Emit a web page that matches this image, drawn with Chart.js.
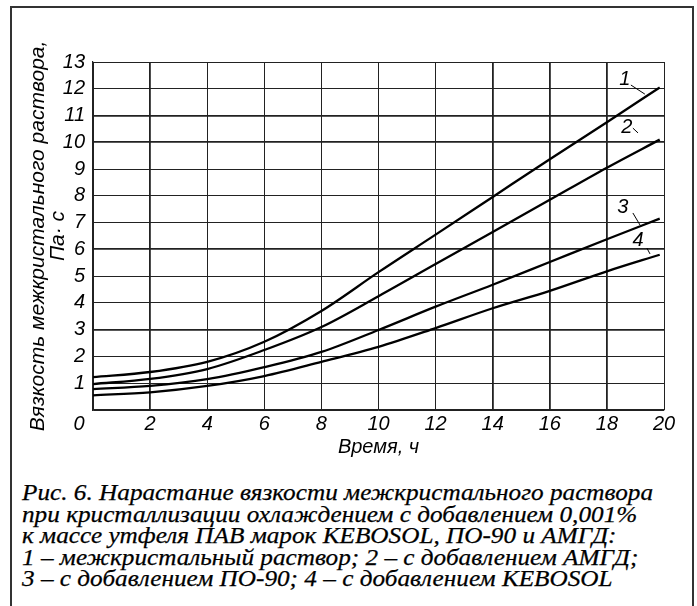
<!DOCTYPE html>
<html>
<head>
<meta charset="utf-8">
<script src="https://cdn.jsdelivr.net/npm/chart.js@4.4.1/dist/chart.umd.min.js"></script>
<style>
  html, body { margin: 0; padding: 0; background: #fff; width: 697px; height: 606px; overflow: hidden; }
  #frame { position: absolute; left: 10px; top: 6px; width: 680px; height: 640px;
           border: 2px solid #333; border-bottom: none; }
  #chart { position: absolute; left: 0; top: 0; }
  #caption { position: absolute; left: 22px; top: 482px; transform-origin: 0 0;
             font-family: 'Liberation Serif', 'DejaVu Serif', serif; font-style: italic;
             font-size: 24px; line-height: 21.6px; color: #000; white-space: nowrap;
             -webkit-text-stroke: 0.25px #000; }
</style>
</head>
<body>
<div id="frame"></div>
<canvas id="chart" width="697" height="470"></canvas>
<div id="caption">
  <div>Рис. 6. Нарастание вязкости межкристального раствора</div>
  <div>при кристаллизации охлаждением с добавлением 0,001%</div>
  <div>к массе утфеля ПАВ марок KEBOSOL, ПО-90 и АМГД:</div>
  <div>1 – межкристальный раствор; 2 – с добавлением АМГД;</div>
  <div>3 – с добавлением ПО-90; 4 – с добавлением KEBOSOL</div>
</div>
<script>
// время, ч
const hours = [0, 2, 4, 6, 8, 10, 12, 14, 16, 18, 19.85];
// вязкость, Па·с
const curve1 = [1.23, 1.42, 1.80, 2.55, 3.70, 5.15, 6.55, 7.96, 9.37, 10.75, 12.05];
const curve2 = [0.97, 1.16, 1.53, 2.24, 3.10, 4.25, 5.45, 6.65, 7.85, 9.05, 10.10];
const curve3 = [0.78, 0.90, 1.15, 1.60, 2.17, 2.99, 3.86, 4.68, 5.53, 6.38, 7.15];
const curve4 = [0.55, 0.66, 0.90, 1.27, 1.80, 2.36, 3.06, 3.80, 4.45, 5.18, 5.80];

// подписи кривых: текст, позиция текста и выноска (в единицах осей)
const curveLabels = [
  { text: '1', x: 18.63, y: 12.33, from: [18.84, 12.14], to: [19.33, 11.80] },
  { text: '2', x: 18.70, y: 10.57, from: [18.91, 10.53], to: [19.09, 10.35] },
  { text: '3', x: 18.56, y: 7.55,  from: [18.91, 7.36],  to: [19.16, 6.91] },
  { text: '4', x: 19.09, y: 6.35,  from: [19.40, 6.05],  to: [19.51, 5.83] }
];

const sans = "'Liberation Sans', Arial, sans-serif";
const tickFont = { family: sans, size: 20, style: 'italic' };
const thickX = [2, 14, 16, 18];
const thickY = [3, 6, 10, 11];

function toPoints(ys) {
  return ys.map((v, i) => ({ x: hours[i], y: v }));
}

function lineSet(ys) {
  return {
    data: toPoints(ys),
    borderColor: '#000',
    borderWidth: 2.3,
    pointRadius: 0,
    cubicInterpolationMode: 'monotone',
    fill: false
  };
}

// подписи номеров кривых и "0" в углу
const labelsPlugin = {
  id: 'curveLabels',
  afterDatasetsDraw(chart) {
    const { ctx, scales: { x, y } } = chart;
    ctx.save();
    ctx.fillStyle = '#000';
    ctx.strokeStyle = '#000';
    ctx.lineWidth = 1;
    ctx.font = 'italic 20px ' + sans;
    ctx.textAlign = 'center';
    ctx.textBaseline = 'middle';
    curveLabels.forEach(l => {
      ctx.fillText(l.text, x.getPixelForValue(l.x), y.getPixelForValue(l.y));
      ctx.beginPath();
      ctx.moveTo(x.getPixelForValue(l.from[0]), y.getPixelForValue(l.from[1]));
      ctx.lineTo(x.getPixelForValue(l.to[0]), y.getPixelForValue(l.to[1]));
      ctx.stroke();
    });
    // общий ноль осей
    ctx.fillText('0', x.left - 14, y.bottom + 14);
    ctx.restore();
  }
};

const ctx = document.getElementById('chart').getContext('2d');
new Chart(ctx, {
  type: 'line',
  data: {
    datasets: [lineSet(curve1), lineSet(curve2), lineSet(curve3), lineSet(curve4)]
  },
  options: {
    responsive: false,
    animation: false,
    events: [],
    layout: { padding: { left: 0, top: 62, right: 33, bottom: 0 } },
    plugins: { legend: { display: false }, tooltip: { enabled: false } },
    scales: {
      x: {
        type: 'linear',
        min: 0,
        max: 20,
        afterFit(scale) { scale.height = 60; },
        ticks: {
          stepSize: 2,
          autoSkip: false,
          font: tickFont,
          color: '#000',
          padding: 2,
          maxRotation: 0,
          callback: v => (v === 0 ? '' : v)
        },
        grid: {
          drawTicks: false,
          color: '#222',
          lineWidth: c => (thickX.includes(c.tick && c.tick.value) ? 1.8 : 1)
        },
        border: { color: '#222', width: 1.2 },
        title: {
          display: true,
          text: 'Время, ч',
          font: { family: sans, size: 20, style: 'italic' },
          color: '#000',
          padding: { top: 0, bottom: 11 }
        }
      },
      y: {
        min: 0,
        max: 13,
        afterFit(scale) { scale.width = 93; },
        ticks: {
          stepSize: 1,
          autoSkip: false,
          font: tickFont,
          color: '#000',
          padding: 8,
          callback: v => (v === 0 ? '' : v)
        },
        grid: {
          drawTicks: false,
          color: '#222',
          lineWidth: c => (thickY.includes(c.tick && c.tick.value) ? 1.8 : 1)
        },
        border: { color: '#222', width: 1.2 },
        title: {
          display: true,
          text: ['Вязкость межкристального раствора,', 'Па· с'],
          font: { family: sans, size: 21, style: 'italic', lineHeight: 0.95 },
          color: '#000',
          padding: { top: 28, bottom: 0 }
        }
      }
    }
  },
  plugins: [labelsPlugin]
});

// подгонка ширины подписи под рисунок
(function fitCaption() {
  const cap = document.getElementById('caption');
  const first = cap.firstElementChild;
  const w = first.getBoundingClientRect().width;
  const k = 631 / w;
  cap.style.transform = 'scaleX(' + k + ')';
})();
</script>
</body>
</html>
